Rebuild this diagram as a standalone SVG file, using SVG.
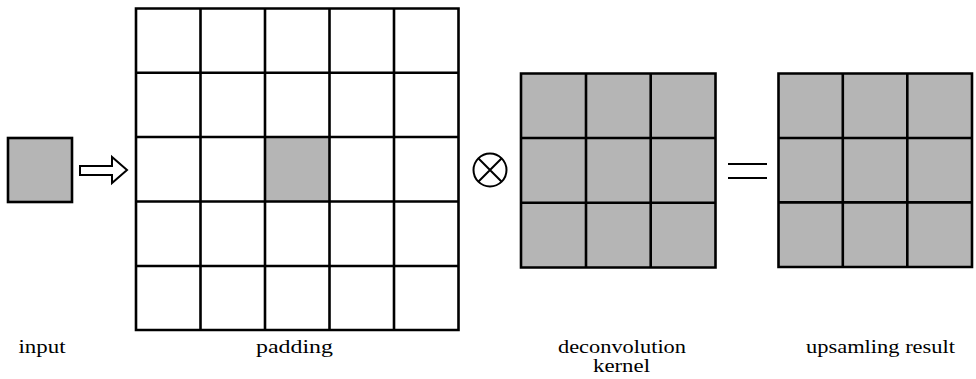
<svg xmlns="http://www.w3.org/2000/svg" width="976" height="379" viewBox="0 0 976 379">
  <style>
    .cell { stroke: #000; stroke-width: 2.6; stroke-linejoin: miter; }
    .grey { fill: #b5b5b5; }
    .white { fill: #fff; }
    .ln { stroke: #000; stroke-width: 2.6; fill: none; }
    .thin { stroke: #000; stroke-width: 2; fill: none; }
    text { font-family: 'Liberation Serif', 'Times New Roman', serif; font-size: 19.5px; fill: #000; text-anchor: middle; }
  </style>
  <rect width="976" height="379" fill="#fff"/>

  <!-- single input pixel -->
  <g id="input">
    <rect class="cell grey" x="8" y="138" width="64" height="64"/>
    <text x="42" y="353" textLength="47" lengthAdjust="spacingAndGlyphs">input</text>
  </g>

  <!-- hollow arrow and operator symbols -->
  <g id="connectors">
    <path class="thin" d="M80,166 H112 V157 L127,170 L112,183 V175 H80 Z" fill="#fff"/>
    <circle class="thin" cx="490" cy="170" r="16.5"/>
    <path class="thin" d="M478.3,158.3 L501.7,181.7 M501.7,158.3 L478.3,181.7"/>
    <path class="thin" d="M728,164 H767 M728,178 H767"/>
  </g>

  <!-- 5x5 padded grid with centre pixel -->
  <g id="padding">
    <rect class="white" x="136" y="8.5" width="322.5" height="321.5"/>
    <rect class="grey" x="265" y="137" width="64.5" height="64.5"/>
    <path class="ln" d="M136,8.5 H458.5 V330 H136 Z
      M200.5,8.5 V330 M265,8.5 V330 M329.5,8.5 V330 M394,8.5 V330
      M136,72.8 H458.5 M136,137 H458.5 M136,201.5 H458.5 M136,266 H458.5"/>
    <text x="294.5" y="353" textLength="77" lengthAdjust="spacingAndGlyphs">padding</text>
  </g>

  <!-- 3x3 kernel -->
  <g id="kernel">
    <rect class="grey" x="521" y="73.5" width="194.5" height="194"/>
    <path class="ln" d="M521,73.5 H715.5 V267.5 H521 Z
      M586,73.5 V267.5 M650.7,73.5 V267.5
      M521,138 H715.5 M521,202.7 H715.5"/>
    <text x="622" y="353" textLength="128" lengthAdjust="spacingAndGlyphs">deconvolution</text>
    <text x="621.5" y="372" textLength="57" lengthAdjust="spacingAndGlyphs">kernel</text>
  </g>

  <!-- 3x3 result -->
  <g id="result">
    <rect class="grey" x="778.5" y="73.5" width="193.5" height="193.5"/>
    <path class="ln" d="M778.5,73.5 H972 V267 H778.5 Z
      M842.8,73.5 V267 M907.3,73.5 V267
      M778.5,138 H972 M778.5,202.4 H972"/>
    <text x="880.5" y="353" textLength="149" lengthAdjust="spacingAndGlyphs">upsamling result</text>
  </g>
</svg>
